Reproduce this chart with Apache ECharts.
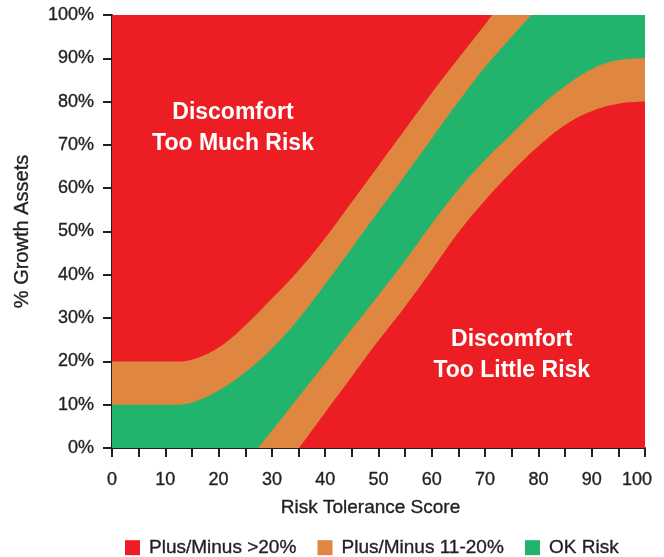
<!DOCTYPE html>
<html>
<head>
<meta charset="utf-8">
<title>Risk Tolerance vs Growth Assets</title>
<script src="https://cdn.jsdelivr.net/npm/echarts@6/dist/echarts.min.js"></script>
<style>
  html, body { margin: 0; padding: 0; background: #ffffff; }
  #chart { width: 664px; height: 557px; }
</style>
</head>
<body>
<div id="chart"></div>
<script>
// Band edges: [risk tolerance score, % growth assets]
const fullBand = [[0, 100], [100, 100]];
const upperAmberEdge = [[0, 20], [12, 20], [15, 20.4], [20, 23.2], [25, 28.3], [30, 34.5], [35, 41], [40, 48.5], [45, 56.8], [50, 65.2], [55, 73.6], [60, 82], [65, 90], [70, 97.8], [71.3, 100]];
const upperGreenEdge = [[0, 10], [12, 10], [15, 10.5], [20, 13.3], [25, 17.5], [30, 23], [35, 29.8], [40, 37.8], [45, 46.2], [50, 54.6], [55, 63], [60, 71.5], [65, 80], [70, 88], [75, 95], [78.7, 100]];
const lowerGreenEdge = [[27.4, 0], [30, 4], [35, 11.8], [40, 19.6], [45, 27.5], [50, 35.3], [55, 43.3], [60, 51.8], [65, 59.7], [70, 66.5], [75, 72.5], [80, 78.5], [85, 83.6], [90, 87.5], [95, 89.6], [100, 90]];
const lowerAmberEdge = [[35.1, 0], [40, 8.2], [45, 16.5], [50, 24.8], [55, 32.7], [60, 41.1], [65, 49.8], [70, 57.2], [75, 63.8], [80, 69.7], [85, 74.6], [90, 77.8], [95, 79.5], [100, 80]];

const legendNames = ['Plus/Minus >20%', 'Plus/Minus 11-20%', 'OK Risk'];
const zoneNotes = [
  { at: [22.7, 73.8], text: 'Discomfort\nToo Much Risk' },
  { at: [75, 21.4], text: 'Discomfort\nToo Little Risk' }
];

const RED = '#ED1D24';
const AMBER = '#DF8741';
const GREEN = '#22B36D';
const INK = '#231F20';
const FONT = '"Liberation Sans", Arial, Helvetica, sans-serif';

// Slightly heavier axis text
const inkText = { color: INK, fontFamily: FONT, textBorderColor: INK, textBorderWidth: 0.35 };

// fill: 'start' fills down to 0%, 'end' fills up to 100%
function band(name, color, data, fill) {
  return {
    name: name,
    type: 'line',
    data: data,
    smooth: 0.4,
    symbol: 'none',
    showSymbol: false,
    clip: true,
    color: color,
    itemStyle: { color: color },
    lineStyle: { width: 0, color: color },
    areaStyle: { color: color, opacity: 1, origin: fill },
    emphasis: { disabled: true },
    silent: true
  };
}

const chart = echarts.init(document.getElementById('chart'), null, { renderer: 'canvas' });

chart.setOption({
  animation: false,
  backgroundColor: '#ffffff',
  textStyle: { fontFamily: FONT },
  grid: { left: 112, right: 19, top: 15, bottom: 109, containLabel: false },
  legend: {
    data: legendNames.map(n => ({ name: n, icon: 'rect' })),
    left: 125,
    top: 538,
    padding: 0,
    itemWidth: 15,
    itemHeight: 15,
    itemGap: 21,
    selectedMode: false,
    textStyle: Object.assign({ fontSize: 19, padding: [0, 0, 0, 4] }, inkText)
  },
  xAxis: {
    type: 'value',
    min: 0,
    max: 100,
    interval: 10,
    name: 'Risk Tolerance Score',
    nameLocation: 'middle',
    nameGap: 50,
    nameTextStyle: Object.assign({ fontSize: 19, padding: [0, 16, 0, 0] }, inkText),
    axisLine: { show: true, onZero: false, lineStyle: { color: INK, width: 2 } },
    axisTick: { show: true, length: 9, lineStyle: { color: INK, width: 2 } },
    minorTick: { show: true, splitNumber: 2, length: 9, lineStyle: { color: INK, width: 2 } },
    splitLine: { show: false },
    minorSplitLine: { show: false },
    axisLabel: Object.assign({
      fontSize: 18,
      margin: 23,
      formatter: function (v) { return v === 100 ? '{last|100}' : String(v); },
      rich: { last: Object.assign({ fontSize: 18, padding: [0, 16, 0, 0] }, inkText) }
    }, inkText)
  },
  yAxis: {
    type: 'value',
    min: 0,
    max: 100,
    interval: 10,
    name: '% Growth Assets',
    nameLocation: 'middle',
    nameGap: 80,
    nameTextStyle: Object.assign({ fontSize: 20 }, inkText),
    axisLine: { show: true, lineStyle: { color: INK, width: 2 } },
    axisTick: { show: true, length: 9, lineStyle: { color: INK, width: 2 } },
    splitLine: { show: false },
    axisLabel: Object.assign({ fontSize: 18, margin: 18, padding: [4, 0, 0, 0], formatter: '{value}%' }, inkText)
  },
  series: [
    band(legendNames[2], GREEN, fullBand, 'start'),
    band(legendNames[1], AMBER, upperGreenEdge, 'end'),
    band(legendNames[0], RED, upperAmberEdge, 'end'),
    band(legendNames[1], AMBER, lowerGreenEdge, 'start'),
    band(legendNames[0], RED, lowerAmberEdge, 'start'),
    {
      name: 'zone notes',
      type: 'scatter',
      silent: true,
      symbolSize: 0,
      z: 5,
      itemStyle: { opacity: 1 },
      data: zoneNotes.map(n => ({ value: n.at, label: { formatter: n.text } })),
      label: {
        show: true,
        position: 'inside',
        color: '#ffffff',
        opacity: 1,
        fontSize: 23,
        fontWeight: 'bold',
        lineHeight: 31,
        align: 'center',
        verticalAlign: 'middle',
        fontFamily: FONT
      }
    }
  ]
});
</script>
</body>
</html>
